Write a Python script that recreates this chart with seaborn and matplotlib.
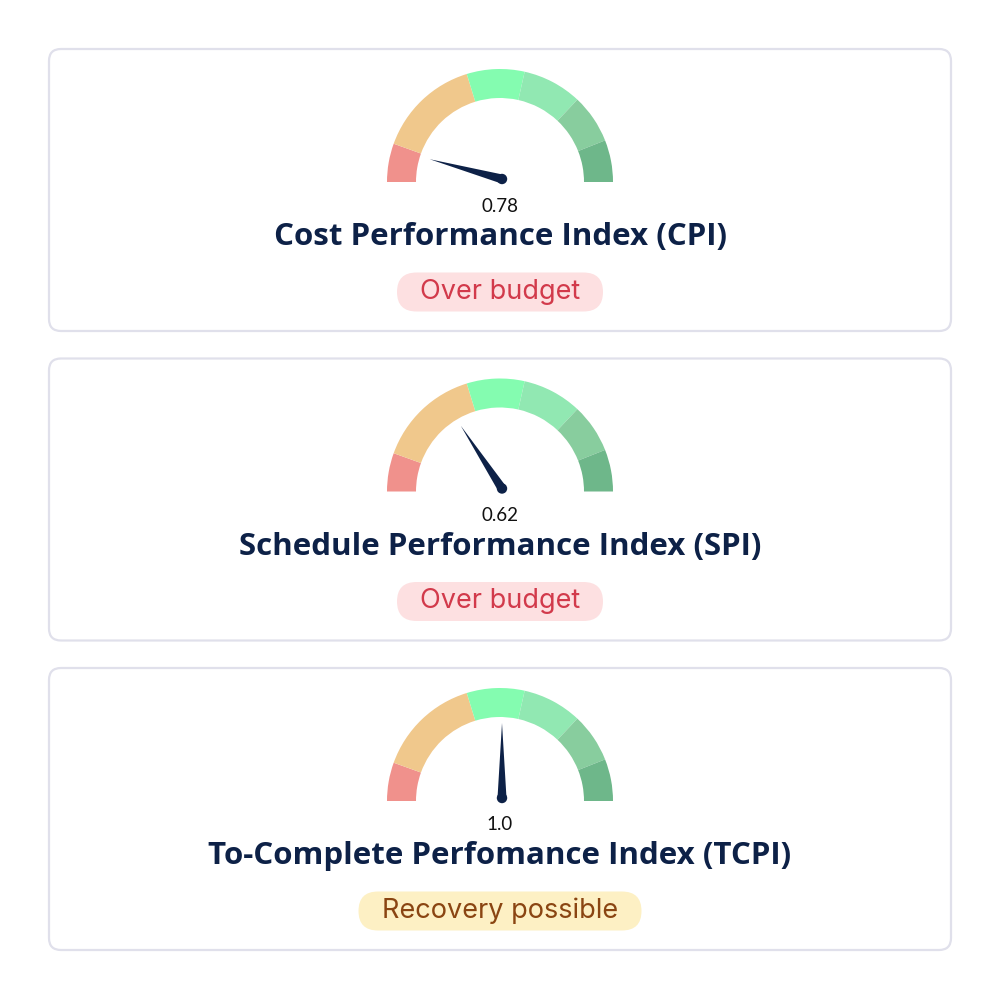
import matplotlib
matplotlib.use("Agg")
import matplotlib.pyplot as plt
from matplotlib.patches import Wedge, Circle, Polygon, FancyBboxPatch
import numpy as np
import seaborn as sns

# gauge data
metric_names = ["Cost Performance Index (CPI)",
                "Schedule Performance Index (SPI)",
                "To-Complete Perfomance Index (TCPI)"]
metric_values = [0.78, 0.62, 1.0]
needle_values = [0.17, 0.63, 1.0]   # where the needle actually points (scale 0..2)
status_labels = ["Over budget", "Over budget", "Recovery possible"]
status_kinds = ["bad", "bad", "warn"]

scale_max = 2.0
band_edges = [0, 0.22, 0.81, 1.14, 1.48, 1.76, 2.0]
band_colors = ["#f0918c", "#f0c88c", "#84fcb0", "#91e8b2", "#88cd9e", "#6eb78a"]

badge_fill = {"bad": "#fde0e1", "warn": "#fdf0c4"}
badge_text = {"bad": "#d23a4b", "warn": "#8a4512"}
navy = "#0d2147"

sns.set_theme(style="white")
plt.rcParams["font.family"] = ["Inter", "DejaVu Sans"]

fig = plt.figure(figsize=(10, 10), dpi=100)
ax = fig.add_axes([0, 0, 1, 1])
ax.set_xlim(0, 1000)
ax.set_ylim(0, 1000)
ax.axis("off")


def to_angle(v):
    return 180 - v / scale_max * 180


r_out, r_in = 113, 84
for i in range(len(metric_names)):
    step = 309.5 * i
    # card
    top = 49 + step
    card = FancyBboxPatch((49, 1000 - top - 282), 902, 282,
                          boxstyle="round,pad=0,rounding_size=12",
                          fc="white", ec="#e0e0eb", lw=1.6)
    ax.add_patch(card)

    cx, cy = 500, 1000 - (182 + step)
    for k in range(len(band_colors)):
        a1 = to_angle(band_edges[k + 1])
        a2 = to_angle(band_edges[k])
        ax.add_patch(Wedge((cx, cy), r_out, a1, a2, width=r_out - r_in,
                           fc=band_colors[k], ec="none"))

    # needle
    ang = np.deg2rad(to_angle(needle_values[i]))
    px, py = cx + 2, cy + 3
    L, w = 75, 4.5
    tip = (px + L * np.cos(ang), py + L * np.sin(ang))
    b1 = (px - w * np.sin(ang), py + w * np.cos(ang))
    b2 = (px + w * np.sin(ang), py - w * np.cos(ang))
    ax.add_patch(Polygon([tip, b1, b2], closed=True, fc=navy, ec="none"))
    ax.add_patch(Circle((px, py), 5.2, fc=navy, ec="none"))

    ax.text(500, 1000 - (206 + step), str(metric_values[i]), ha="center", va="center",
            fontsize=13.5, color="#111111", family=["Lato", "DejaVu Sans"])
    ax.text(500, 1000 - (237 + step), metric_names[i], ha="center", va="center",
            fontsize=22.5, fontweight="bold", color=navy, family=["Open Sans", "DejaVu Sans"])

    # status pill
    kind = status_kinds[i]
    bw = 206 if kind == "bad" else 283
    bh = 39
    by = 1000 - (292 + step)
    ax.add_patch(FancyBboxPatch((500 - bw / 2, by - bh / 2), bw, bh,
                                boxstyle=f"round,pad=0,rounding_size={bh / 2}",
                                fc=badge_fill[kind], ec="none"))
    ax.text(500, by, status_labels[i], ha="center", va="center",
            fontsize=19.5, color=badge_text[kind])

fig.savefig("out.png", dpi=100, facecolor="white")
